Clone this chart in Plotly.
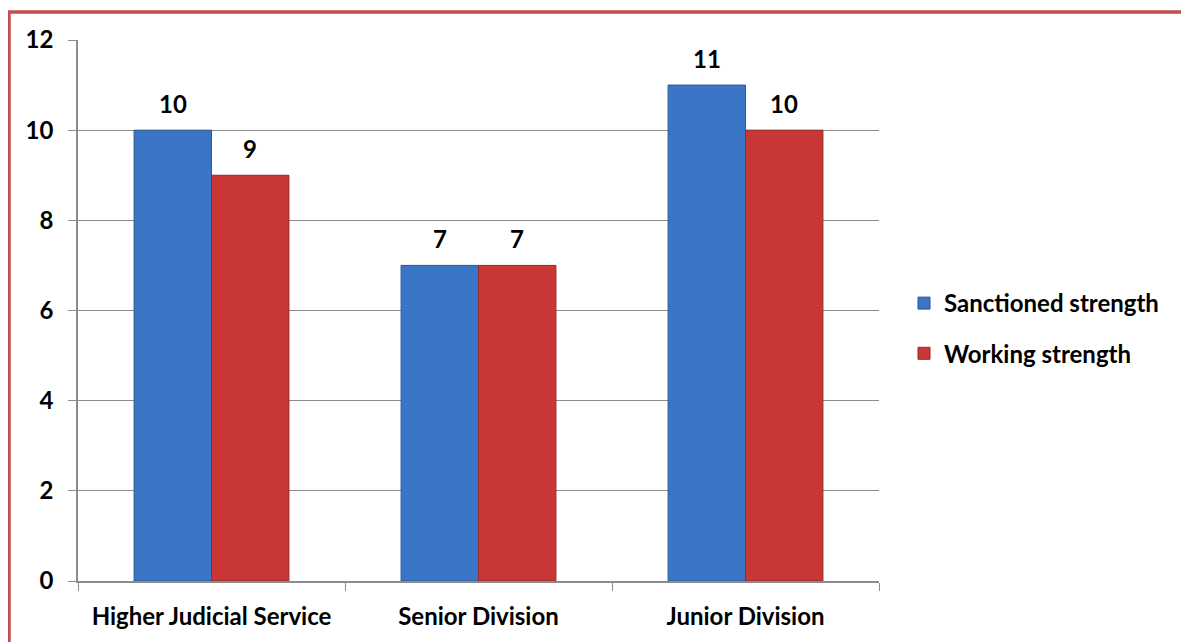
import plotly.graph_objects as go

categories = ["Higher Judicial Service", "Senior Division", "Junior Division"]
sanctioned = [10, 7, 11]
working = [9, 7, 10]
y_ticks = [0, 2, 4, 6, 8, 10, 12]

FONT = "Lato, 'Open Sans', sans-serif"
FS = 24

W, H = 1181, 634  # page has an 8px body margin
L, R, T, B = 70, 310, 32, 61
PW, PH = W - L - R, H - T - B

fig = go.Figure()
fig.add_trace(go.Bar(
    name="Sanctioned strength", x=categories, y=sanctioned, legendgroup="a",
    marker=dict(color="#3A75C6", line=dict(color="#2A5A9A", width=1)),
))
fig.add_trace(go.Bar(
    name="Working strength", x=categories, y=working, legendgroup="b",
    marker=dict(color="#C83636", line=dict(color="#952828", width=1)),
))

# value labels above bars
for series, shift in ((sanctioned, -38.5), (working, 38.5)):
    for c, v in zip(categories, series):
        fig.add_annotation(x=c, y=v, text=f"<b>{v}</b>", showarrow=False,
                           xshift=shift, yshift=27,
                           font=dict(family=FONT, size=FS, color="black"))

fig.update_layout(
    width=W, height=H,
    margin=dict(l=L, r=R, t=T, b=B, autoexpand=False),
    paper_bgcolor="white", plot_bgcolor="white",
    barmode="group", bargap=0.42, bargroupgap=0,
    font=dict(family=FONT, size=FS, color="black", weight="bold"),
    legend=dict(x=25 / PW + 1, y=0.5 - 18 / PH, yanchor="middle", xanchor="left",
                font=dict(family=FONT, size=FS, color="black", weight="bold"),
                itemwidth=30, tracegroupgap=16, traceorder="grouped"),
    showlegend=True,
)
fig.update_xaxes(
    showline=True, linecolor="#8C8C8C", linewidth=1.5,
    ticks="outside", tickson="boundaries", ticklen=8, tickcolor="#8C8C8C",
    tickfont=dict(family=FONT, size=FS, color="black", weight="bold"),
    showgrid=False, automargin=False, ticklabelstandoff=13,
)
fig.update_yaxes(
    range=[0, 12], tickvals=y_ticks, showline=True, linecolor="#8C8C8C", linewidth=1.5,
    ticks="outside", ticklen=8, tickcolor="#8C8C8C",
    showgrid=True, gridcolor="#8C8C8C", gridwidth=1.2,
    tickfont=dict(family=FONT, size=FS, color="black", weight="bold"),
    ticklabelstandoff=10, zeroline=False, automargin=False,
)

fig.add_shape(type="rect", xref="paper", yref="paper",
              x0=(1 - L) / PW, x1=(1180 - L) / PW,
              y0=(H - B - (H + 20)) / PH, y1=(H - B - 4) / PH,
              line=dict(color="#C0504D", width=3.5), fillcolor="rgba(0,0,0,0)", layer="above")

fig.write_html("out.html")
